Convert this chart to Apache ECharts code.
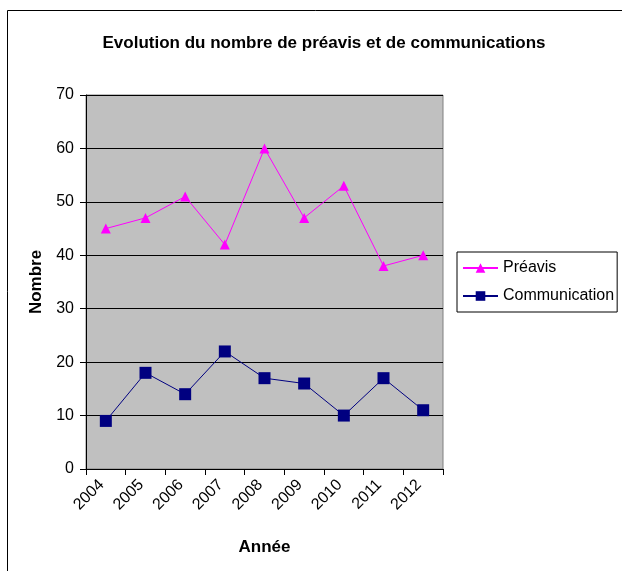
<!DOCTYPE html>
<html>
<head>
    <meta charset="utf-8">
    <title>Evolution du nombre de préavis et de communications</title>
    <style type="text/css">
        html, body { margin: 0; padding: 0; background: #fff; }
        #chart { width: 622px; height: 571px; }
    </style>
</head>
<body>
    <div id="chart"></div>
    <script src="https://cdn.jsdelivr.net/npm/echarts@6/dist/echarts.min.js"></script>
    <script type="text/javascript">
        // données
        var annees = ['2004', '2005', '2006', '2007', '2008', '2009', '2010', '2011', '2012'];
        var preavis = [45, 47, 51, 42, 60, 47, 53, 38, 40];
        var communication = [9, 18, 14, 22, 17, 16, 10, 17, 11];
        var yTicks = [0, 10, 20, 30, 40, 50, 60, 70];

        var police = 'Liberation Sans, Arial, sans-serif';
        var chart = echarts.init(document.getElementById('chart'));

        chart.setOption({
            animation: false,
            textStyle: { fontFamily: police },
            graphic: [{
                type: 'rect',
                shape: { x: 7.5, y: 10.5, width: 700, height: 700 },
                style: { fill: 'none', stroke: '#000', lineWidth: 1 }
            }],
            title: {
                text: 'Evolution du nombre de préavis et de communications',
                left: 319,
                textAlign: 'center',
                top: 30,
                textStyle: { fontSize: 17, fontWeight: 'bold', color: '#000', fontFamily: police }
            },
            grid: {
                left: 86, top: 95, right: 179, bottom: 102,
                show: true,
                backgroundColor: '#C0C0C0',
                borderColor: '#808080',
                borderWidth: 1
            },
            legend: {
                orient: 'vertical',
                left: 457, top: 252,
                width: 160,
                padding: [8, 3, 8, 5],
                borderColor: '#000', borderWidth: 1,
                itemWidth: 35, itemHeight: 12, itemGap: 12,
                textStyle: { fontSize: 16, color: '#000', fontFamily: police },
                data: ['Préavis', 'Communication']
            },
            xAxis: {
                type: 'category',
                data: annees,
                boundaryGap: true,
                name: 'Année',
                nameLocation: 'middle',
                nameGap: 70,
                nameTextStyle: { fontSize: 17, fontWeight: 'bold', color: '#000' },
                axisLine: { lineStyle: { color: '#000', width: 1 } },
                axisTick: { show: true, inside: false, length: 6, lineStyle: { color: '#000' } },
                axisLabel: { rotate: 45, fontSize: 16, color: '#000', margin: 9, interval: 0, padding: [0, 6, 0, 0] },
                splitLine: { show: false }
            },
            yAxis: {
                type: 'value',
                min: yTicks[0],
                max: yTicks[yTicks.length - 1],
                interval: 10,
                name: 'Nombre',
                nameLocation: 'middle',
                nameGap: 41,
                nameTextStyle: { fontSize: 17, fontWeight: 'bold', color: '#000' },
                axisLine: { show: true, lineStyle: { color: '#000', width: 1 } },
                axisTick: { show: true, inside: false, length: 6, lineStyle: { color: '#000' } },
                axisLabel: { fontSize: 16, color: '#000', margin: 12 },
                splitLine: { show: true, lineStyle: { color: '#000', width: 1 } }
            },
            series: [
                {
                    name: 'Préavis',
                    type: 'line',
                    data: preavis,
                    symbol: 'triangle',
                    symbolSize: 10,
                    lineStyle: { color: '#FF00FF', width: 1 },
                    itemStyle: { color: '#FF00FF' }
                },
                {
                    name: 'Communication',
                    type: 'line',
                    data: communication,
                    symbol: 'rect',
                    symbolSize: 12,
                    lineStyle: { color: '#000080', width: 1 },
                    itemStyle: { color: '#000080' }
                }
            ]
        });
    </script>
</body>
</html>
